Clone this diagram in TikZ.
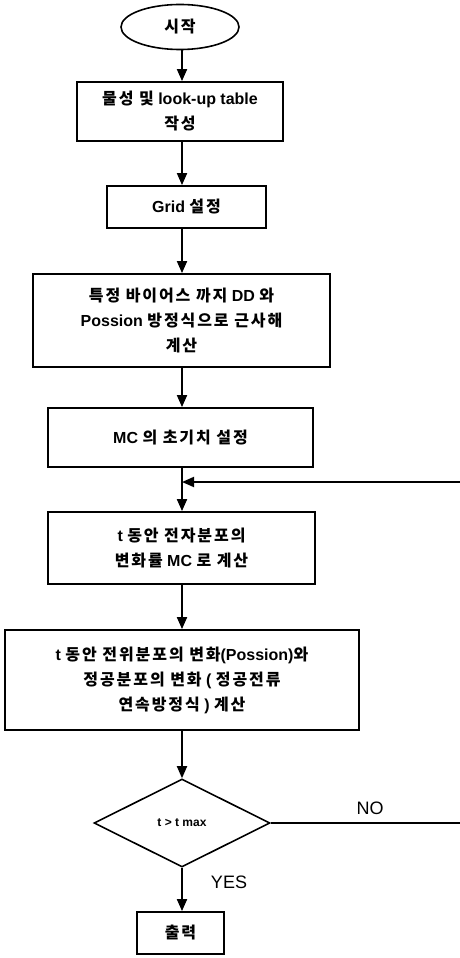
\documentclass[tikz,border=0pt]{standalone}
\usepackage{fontspec}
\setmainfont{Liberation Sans}
\newfontfamily\krf[LetterSpace=12]{Noto Sans CJK KR}
\newcommand{\K}[1]{{\krf\bfseries #1}}
\usetikzlibrary{shapes.geometric,arrows.meta}
\begin{document}
\begin{tikzpicture}[x=1pt,y=-1pt,
  every node/.style={font=\fontsize{16}{25}\selectfont\bfseries, align=center},
  box/.style={draw, line width=1.8pt, inner sep=0pt},
  arr/.style={line width=1.8pt, -{Triangle[length=12pt,width=10pt]}},
  plain/.style={line width=1.6pt}]
\useasboundingbox (0,0) rectangle (460,958);
\coordinate (spine) at (182,0);
\node[draw, ellipse, line width=1.6pt, minimum width=118, minimum height=45, inner sep=0pt] (start) at (180,27) {\K{시작}};
\node[box, minimum width=206, minimum height=59] (b1) at (180,111.5) {\K{물성 및} look-up table\\\K{작성}};
\node[box, minimum width=159, minimum height=42] (b2) at (186.5,207) {Grid \K{설정}};
\node[box, minimum width=297, minimum height=93] (b3) at (181.5,320.5) {\K{특정 바이어스 까지} DD \K{와}\\Possion \K{방정식으로 근사해}\\\K{계산}};
\node[box, minimum width=265, minimum height=59] (b4) at (180.5,437.5) {MC \K{의 초기치 설정}};
\node[box, minimum width=267, minimum height=72] (b5) at (181.5,548) {t \K{동안 전자분포의}\\\K{변화률} MC \K{로 계산}};
\node[box, minimum width=354, minimum height=100] (b6) at (182,680) {t \K{동안 전위분포의 변화}(Possion)\K{와}\\\K{정공분포의 변화} ( \K{정공전류}\\\K{연속방정식} ) \K{계산}};
\node[draw, diamond, line width=1.6pt, minimum width=176, minimum height=88, inner sep=0pt, font=\fontsize{12}{14}\selectfont\bfseries] (d) at (182,823) {t > t max};
\node[box, minimum width=87, minimum height=42] (out) at (180.5,933) {\K{출력}};
\coordinate (rin) at (460,482);
\coordinate (join) at (182,482);
\coordinate (nout) at (460,823);
\draw[arr] (start.south -| spine) -- (b1.north -| spine);
\draw[arr] (b1.south -| spine) -- (b2.north -| spine);
\draw[arr] (b2.south -| spine) -- (b3.north -| spine);
\draw[arr] (b3.south -| spine) -- (b4.north -| spine);
\draw[arr] (b4.south -| spine) -- (b5.north -| spine);
\draw[arr] (b5.south -| spine) -- (b6.north -| spine);
\draw[arr] (b6.south -| spine) -- (d.north);
\draw[arr] (d.south) -- (out.north -| spine);
\draw[arr] (rin) -- (join);
\draw[plain] (d.east) -- (nout);
\node[font=\fontsize{18}{20}\selectfont] (no) at (370,808) {NO};
\node[font=\fontsize{18}{20}\selectfont] (yes) at (229,882) {YES};
\end{tikzpicture}
\end{document}
